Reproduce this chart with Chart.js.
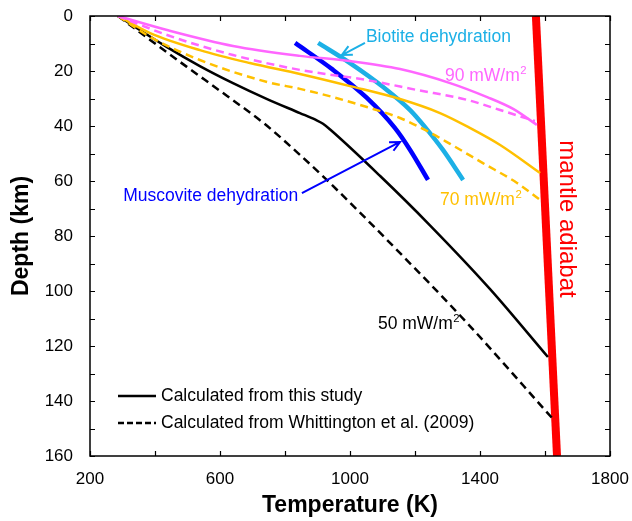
<!DOCTYPE html>
<html>
<head>
<meta charset="utf-8">
<script src="https://cdn.jsdelivr.net/npm/chart.js@4/dist/chart.umd.min.js"></script>
<style>
  html, body { margin: 0; padding: 0; background: #fff; }
  #wrap { width: 632px; height: 521px; }
</style>
</head>
<body>
<div id="wrap"><canvas id="geotherm"></canvas></div>
<script>
// temperature (K) / depth (km) pairs for each curve
const this50T = [286, 437, 538, 640, 745, 846, 895, 917, 938, 1092, 1246, 1431, 1609];
const this50D = [0, 11.3, 18.2, 24.4, 30.2, 35.3, 37.8, 39.2, 41.2, 58.1, 76.1, 99.3, 124];
const whit50T = [286, 385, 498, 622, 738, 846, 938, 1123, 1360, 1622];
const whit50D = [0, 8.7, 18.5, 29.1, 39.3, 50.5, 60.7, 82.5, 111.6, 146.2];

const this70T = [286, 385, 538, 692, 846, 1000, 1154, 1277, 1369, 1462, 1585];
const this70D = [0, 6.2, 12.4, 17.1, 21.1, 25.5, 30.2, 35.3, 40.7, 46.9, 57.1];
const whit70T = [286, 385, 538, 745, 846, 948, 1052, 1154, 1237, 1308, 1409, 1514, 1585];
const whit70D = [0, 7.6, 16, 24, 26.5, 29.5, 33.1, 37.1, 41.8, 46.5, 53.5, 60.7, 66.9];

const this90T = [286, 437, 640, 846, 1000, 1154, 1308, 1422, 1502, 1575];
const this90D = [0, 5.1, 10.9, 14.5, 16.4, 19.3, 24.4, 29.5, 33.8, 39.6];
const whit90T = [286, 437, 640, 846, 1052, 1206, 1360, 1462, 1569];
const whit90D = [0, 6.9, 14.2, 19.6, 23.3, 26.9, 30.5, 34.2, 38.2];

const muscoviteT = [831, 948, 1052, 1138, 1185, 1240];
const muscoviteD = [9.8, 19.6, 29.8, 40.7, 48.7, 59.6];
const biotiteT = [902, 1000, 1102, 1185, 1231, 1286, 1348];
const biotiteD = [9.8, 17.1, 25.8, 34.2, 40.4, 48.7, 59.6];

const adiabatT = [1572, 1637];
const adiabatD = [0, 160];

const xTicks = [200, 600, 1000, 1400, 1800];
const yTicks = [0, 20, 40, 60, 80, 100, 120, 140, 160];

const FONT = '"Liberation Sans", Arial, sans-serif';

const pts = (xs, ys) => xs.map((x, i) => ({ x: x, y: ys[i] }));

const line = (label, xs, ys, color, width, dash) => ({
  label,
  data: pts(xs, ys),
  borderColor: color,
  borderWidth: width,
  borderDash: dash || [],
  pointRadius: 0,
  showLine: true,
  cubicInterpolationMode: 'monotone',
  fill: false,
});

const datasets = [
  line('90 this', this90T, this90D, '#ff66ff', 2.5),
  line('90 whit', whit90T, whit90D, '#ff66ff', 2.5, [8, 5]),
  line('70 this', this70T, this70D, '#ffc000', 2.5),
  line('70 whit', whit70T, whit70D, '#ffc000', 2.5, [8, 5]),
  line('50 this', this50T, this50D, '#000000', 2.5),
  line('50 whit', whit50T, whit50D, '#000000', 2.5, [8, 5]),
  line('Muscovite', muscoviteT, muscoviteD, '#0000ff', 4.5),
  line('Biotite', biotiteT, biotiteD, '#1cb0e6', 4.5),
  line('Adiabat', adiabatT, adiabatD, '#ff0000', 8),
];

// labels placed in data coordinates: [text, T, D, colour, size]
const notes = [
  ['Biotite dehydration', 1049, 7.6, '#1cb0e6', 17.5],
  ['90 mW/m', 1292, 21.8, '#ff66ff', 17.5],
  ['70 mW/m', 1277, 66.9, '#ffc000', 17.5],
  ['50 mW/m', 1086, 112, '#000000', 17.5],
  ['Muscovite dehydration', 302, 65.5, '#0000ff', 17.5],
];
// arrows: from (T, D) to (T, D)
const arrows = [
  [1046, 9.8, 975, 14.2, '#1cb0e6'],
  [852, 64.4, 1154, 45.8, '#0000ff'],
];

const frame = {
  id: 'frame',
  afterDatasetsDraw(chart) {
    const { ctx, chartArea: a, scales } = chart;
    const xs = scales.x, ys = scales.y;
    ctx.save();
    // arrows
    arrows.forEach(([t0, d0, t1, d1, c]) => {
      const x0 = xs.getPixelForValue(t0), y0 = ys.getPixelForValue(d0);
      const x1 = xs.getPixelForValue(t1), y1 = ys.getPixelForValue(d1);
      const ang = Math.atan2(y1 - y0, x1 - x0);
      ctx.strokeStyle = c;
      ctx.lineWidth = 2;
      ctx.beginPath();
      ctx.moveTo(x0, y0);
      ctx.lineTo(x1, y1);
      ctx.moveTo(x1 - 11 * Math.cos(ang - 0.45), y1 - 11 * Math.sin(ang - 0.45));
      ctx.lineTo(x1, y1);
      ctx.lineTo(x1 - 11 * Math.cos(ang + 0.45), y1 - 11 * Math.sin(ang + 0.45));
      ctx.stroke();
    });
    // text notes, the heat-flow ones get a superscript 2
    ctx.textBaseline = 'middle';
    ctx.textAlign = 'left';
    notes.forEach(([txt, t, d, c, sz]) => {
      const x = xs.getPixelForValue(t), y = ys.getPixelForValue(d);
      ctx.fillStyle = c;
      ctx.font = sz + 'px ' + FONT;
      ctx.fillText(txt, x, y);
      if (txt.endsWith('mW/m')) {
        const w = ctx.measureText(txt).width;
        ctx.font = (sz * 0.65) + 'px ' + FONT;
        ctx.fillText('2', x + w + 0.5, y - 5);
      }
    });
    // rotated adiabat label
    ctx.save();
    ctx.translate(xs.getPixelForValue(1665), ys.getPixelForValue(73.8));
    ctx.rotate(Math.PI / 2);
    ctx.textAlign = 'center';
    ctx.fillStyle = '#ff0000';
    ctx.font = '24px ' + FONT;
    ctx.fillText('mantle adiabat', 0, 0);
    ctx.restore();

    // legend
    const lx = a.left + 28, lyy = [396, 423];
    ctx.strokeStyle = '#000';
    ctx.lineWidth = 2.5;
    ctx.fillStyle = '#000';
    ctx.font = '17.5px ' + FONT;
    ['Calculated from this study', 'Calculated from Whittington et al. (2009)'].forEach((s, i) => {
      ctx.setLineDash(i ? [6, 3] : []);
      ctx.beginPath();
      ctx.moveTo(lx, lyy[i]);
      ctx.lineTo(lx + 38, lyy[i]);
      ctx.stroke();
      ctx.fillText(s, lx + 43, lyy[i]);
    });
    ctx.setLineDash([]);

    // box and inward ticks
    ctx.strokeStyle = '#000';
    ctx.lineWidth = 1.5;
    ctx.strokeRect(a.left, a.top, a.right - a.left, a.bottom - a.top);
    ctx.lineWidth = 1.2;
    ctx.beginPath();
    for (let v = 200; v <= 1800; v += 200) {
      const x = Math.round(xs.getPixelForValue(v)) + 0.5;
      ctx.moveTo(x, a.bottom); ctx.lineTo(x, a.bottom - 5);
      ctx.moveTo(x, a.top); ctx.lineTo(x, a.top + 5);
    }
    for (let v = 0; v <= 160; v += 10) {
      const y = Math.round(ys.getPixelForValue(v)) + 0.5;
      ctx.moveTo(a.left, y); ctx.lineTo(a.left + 5, y);
      ctx.moveTo(a.right, y); ctx.lineTo(a.right - 5, y);
    }
    ctx.stroke();
    ctx.restore();
  },
};

new Chart('geotherm', {
  type: 'scatter',
  data: { datasets },
  plugins: [frame],
  options: {
    responsive: true,
    maintainAspectRatio: false,
    animation: false,
    layout: { padding: { top: 16, right: 22, left: 0, bottom: 0 } },
    plugins: { legend: { display: false }, tooltip: { enabled: false } },
    scales: {
      x: {
        type: 'linear',
        min: 200,
        max: 1800,
        afterBuildTicks: s => { s.ticks = xTicks.map(v => ({ value: v })); },
        afterFit: s => { s.height = 65; s.paddingLeft = 0; s.paddingRight = 0; },
        grid: { display: false, drawTicks: false },
        border: { display: false },
        ticks: {
          color: '#000',
          font: { family: FONT, size: 17 },
          padding: 13,
          maxRotation: 0,
          callback: v => String(v),
        },
        title: {
          display: true,
          text: 'Temperature (K)',
          color: '#000',
          font: { family: FONT, size: 23, weight: 'bold' },
          padding: { top: 0, bottom: 2 },
        },
      },
      y: {
        type: 'linear',
        reverse: true,
        min: 0,
        max: 160,
        afterBuildTicks: s => { s.ticks = yTicks.map(v => ({ value: v })); },
        afterFit: s => { s.width = 90; s.paddingTop = 0; s.paddingBottom = 0; },
        grid: { display: false, drawTicks: false },
        border: { display: false },
        ticks: {
          color: '#000',
          font: { family: FONT, size: 17 },
          padding: 17,
          callback: v => String(v),
        },
        title: {
          display: true,
          text: 'Depth (km)',
          color: '#000',
          font: { family: FONT, size: 23, weight: 'bold' },
          padding: { top: 8, bottom: 0 },
        },
      },
    },
  },
});
</script>
</body>
</html>
